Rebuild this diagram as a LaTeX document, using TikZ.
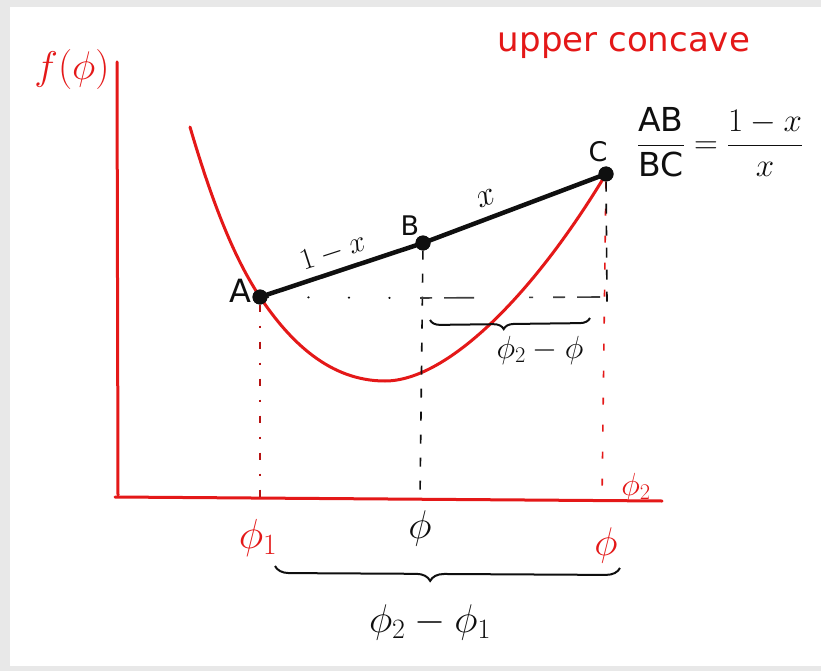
\RequirePackage{fix-cm}
\documentclass[tikz,border=0pt]{standalone}
\usepackage{amsmath}
\usepackage{fontspec}
\setmainfont{DejaVu Sans}
\usetikzlibrary{decorations.pathreplacing}
\definecolor{pen}{RGB}{228,24,24}
\definecolor{ink}{RGB}{15,15,15}
\begin{document}
\begin{tikzpicture}[x=1pt,y=-1pt,
  redline/.style={pen,line width=3pt,line cap=round},
  segline/.style={ink,line width=4.5pt,line cap=round},
  dot/.style={circle,fill=ink,inner sep=0pt,minimum size=15pt},
  guide/.style={line width=1.6pt,dash pattern=on 7pt off 20pt},
  guidedot/.style={line width=1.6pt,dash pattern=on 7pt off 14pt on 2pt off 14pt},
  brace/.style={ink,line width=2pt,decorate},
  rlab/.style={pen,inner sep=0pt},
  blab/.style={ink,inner sep=0pt}]
% frame
\useasboundingbox (0,0) rectangle (821,671);
\fill[black!9] (0,0) rectangle (821,671);
\fill[white] (10,7) rectangle (821,666);
% axes
\draw[redline] (117,62) -- (118,495);
\draw[redline] (115,497) -- (662,501);
% points
\node[dot] (A) at (260,297) {};
\node[dot] (B) at (423,243) {};
\node[dot] (C) at (606,174) {};
\coordinate (F0) at (190,127);
\coordinate (Fm) at (385,381);
% curve
\draw[redline] (F0) .. controls (210,195) and (232,255) .. (A.center)
  .. controls (290,342) and (330,381) .. (Fm)
  .. controls (445,381) and (530,300) .. (C.center);
\coordinate (A0) at (260,498);
\coordinate (B0) at (420,499);
\coordinate (C0) at (602,500);
\coordinate (Ch) at (607,302);
\coordinate (Am) at (420,298);
\coordinate (Ar) at (600,297);
% guides
\draw[guidedot,pen!80!black] (A) -- (A0);
\draw[guide,ink,dash pattern=on 9pt off 14pt] (B) -- (B0);
\draw[guide,pen] (C) -- (C0);
\draw[guide,ink,dash pattern=on 10pt off 12pt] (C) -- (Ch);
\draw[ink,line width=2pt,line cap=round,dash pattern=on 0.5pt off 40pt] (A) -- (Am);
\draw[ink!80,line width=1.6pt,dash pattern=on 12pt off 12pt on 30pt off 55pt on 4pt off 20pt] (Am) -- (Ar);
% chord
\draw[segline] (A.center) -- (B.center) -- (C.center);
\node[dot] at (A) {};
\node[dot] at (B) {};
\node[dot] at (C) {};
% braces
\coordinate (s1) at (430,320);
\coordinate (s2) at (590,318);
\draw[brace,decoration={brace,mirror,amplitude=10pt,aspect=0.46}] (s1) -- (s2);
\coordinate (b1) at (275,566);
\coordinate (b2) at (620,568);
\draw[brace,decoration={brace,mirror,amplitude=14pt,aspect=0.45}] (b1) -- (b2);
% labels
\node[rlab,font=\fontsize{40}{40}\selectfont] (fphi) at (72,70) {$f(\phi)$};
\node[rlab,font=\fontsize{34}{34}\selectfont] (uc) at (624,46) {upper concave};
\node[blab,font=\fontsize{33}{33}\selectfont] (frac) at (720,142) {$\dfrac{\mathrm{AB}}{\mathrm{BC}}=\dfrac{1-x}{x}$};
\node[blab,font=\fontsize{32}{32}\selectfont] (Al) at (240,291) {A};
\node[blab,font=\fontsize{27}{27}\selectfont] (Bl) at (410,226) {B};
\node[blab,font=\fontsize{27}{27}\selectfont] (Cl) at (598,152) {C};
\node[blab,font=\fontsize{30}{30}\selectfont,rotate=18] (l1) at (333,252) {$1-x$};
\node[blab,font=\fontsize{34}{34}\selectfont,rotate=20] (l2) at (486,198) {$x$};
\node[blab,font=\fontsize{32}{32}\selectfont] (d1) at (540,350) {$\phi_2-\phi$};
\node[rlab,font=\fontsize{42}{42}\selectfont] (p1) at (258,538) {$\phi_1$};
\node[blab,font=\fontsize{40}{40}\selectfont] (p) at (420,528) {$\phi$};
\node[rlab,font=\fontsize{40}{40}\selectfont] (p2) at (606,545) {$\phi$};
\node[rlab,font=\fontsize{32}{32}\selectfont] (p2t) at (636,487) {$\phi_2$};
\node[blab,font=\fontsize{40}{40}\selectfont] (d2) at (430,622) {$\phi_2-\phi_1$};
\end{tikzpicture}
\end{document}
